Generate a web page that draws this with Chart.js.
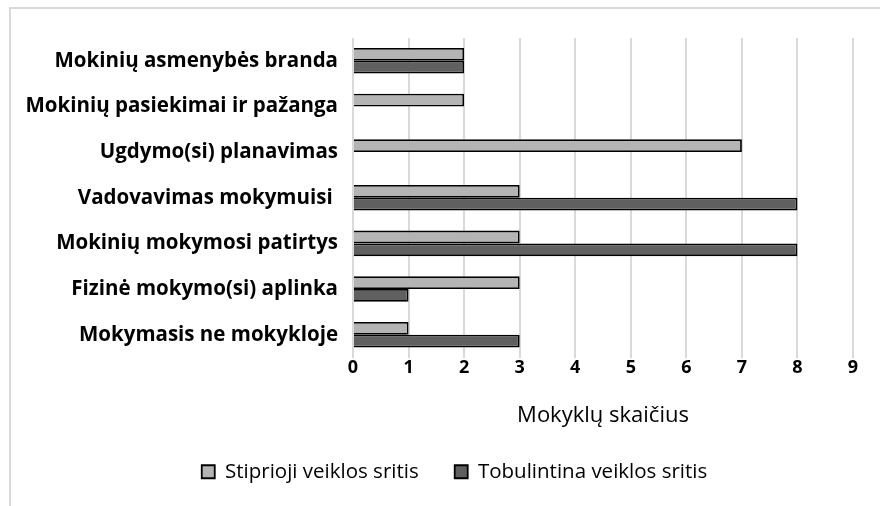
<!DOCTYPE html>
<html>
<head>
<meta charset="utf-8">
<script src="https://cdn.jsdelivr.net/npm/chart.js@4/dist/chart.umd.min.js"></script>
<style>
  html, body { margin: 0; padding: 0; background: #fff; }
  #wrap { position: relative; width: 880px; height: 506px; }
  #frame { position: absolute; left: 9px; top: 7px; right: 0; bottom: 0;
           border-left: 2px solid #d9d9d9; border-top: 2px solid #d9d9d9; }
</style>
</head>
<body>
<div id="wrap">
  <div id="frame"></div>
  <canvas id="myChart" width="880" height="506"></canvas>
</div>
<script>
"use strict";

const categories = [
  "Mokinių asmenybės branda",
  "Mokinių pasiekimai ir pažanga",
  "Ugdymo(si) planavimas",
  "Vadovavimas mokymuisi ",
  "Mokinių mokymosi patirtys",
  "Fizinė mokymo(si) aplinka",
  "Mokymasis ne mokykloje",
];
const stiprioji = [2, 2, 7, 3, 3, 3, 1];
const tobulintina = [2, null, null, 8, 8, 1, 3];
const seriesNames = ["Stiprioji veiklos sritis", "Tobulintina veiklos sritis"];
const xTicks = [0, 1, 2, 3, 4, 5, 6, 7, 8, 9];
const axisTitle = "Mokyklų skaičius";

const FONT = "'Open Sans', Lato, sans-serif";

// moves the legend so it sits where the reference has it
const legendShift = {
  id: "legendShift",
  afterLayout(chart) {
    const lg = chart.legend;
    lg.left += 28;
    lg.right += 28;
    lg.top -= 14;
    lg.bottom -= 14;
  },
};

const config = {
  type: "bar",
  data: {
    labels: categories,
    datasets: [
      {
        label: seriesNames[0],
        data: stiprioji,
        backgroundColor: "#b4b4b4",
        borderColor: "#000000",
        borderWidth: 1.8,
      },
      {
        label: seriesNames[1],
        data: tobulintina,
        backgroundColor: "#606060",
        borderColor: "#000000",
        borderWidth: 1.8,
      },
    ],
  },
  options: {
    indexAxis: "y",
    responsive: false,
    animation: false,
    categoryPercentage: 0.56,
    barPercentage: 1,
    layout: { padding: { left: 0, right: 27, top: 38, bottom: 0 } },
    scales: {
      x: {
        min: 0,
        max: 9,
        afterBuildTicks(axis) {
          axis.ticks = xTicks.map((v) => ({ value: v }));
        },
        grid: { color: "#d9d9d9", lineWidth: 2, drawTicks: false },
        border: { display: false },
        ticks: {
          color: "#000",
          padding: 0,
          font: { family: FONT, size: 18, weight: "bold" },
        },
        title: {
          display: true,
          text: axisTitle,
          color: "#000",
          padding: { top: 0, bottom: 11 },
          font: { family: FONT, size: 22 },
        },
        afterFit(axis) {
          axis.height = 82;
        },
      },
      y: {
        grid: { display: false, drawTicks: false },
        border: { display: false },
        ticks: {
          color: "#000",
          padding: 15,
          font: { family: FONT, size: 20.5, weight: "bold" },
        },
        afterFit(axis) {
          axis.width = 353;
        },
      },
    },
    plugins: {
      legend: {
        position: "bottom",
        labels: {
          color: "#000",
          boxWidth: 13,
          boxHeight: 13,
          padding: 36,
          font: { family: FONT, size: 20.5 },
        },
      },
      tooltip: { enabled: false },
    },
  },
  plugins: [legendShift],
};

const myChart = new Chart(document.getElementById("myChart"), config);
</script>
</body>
</html>
